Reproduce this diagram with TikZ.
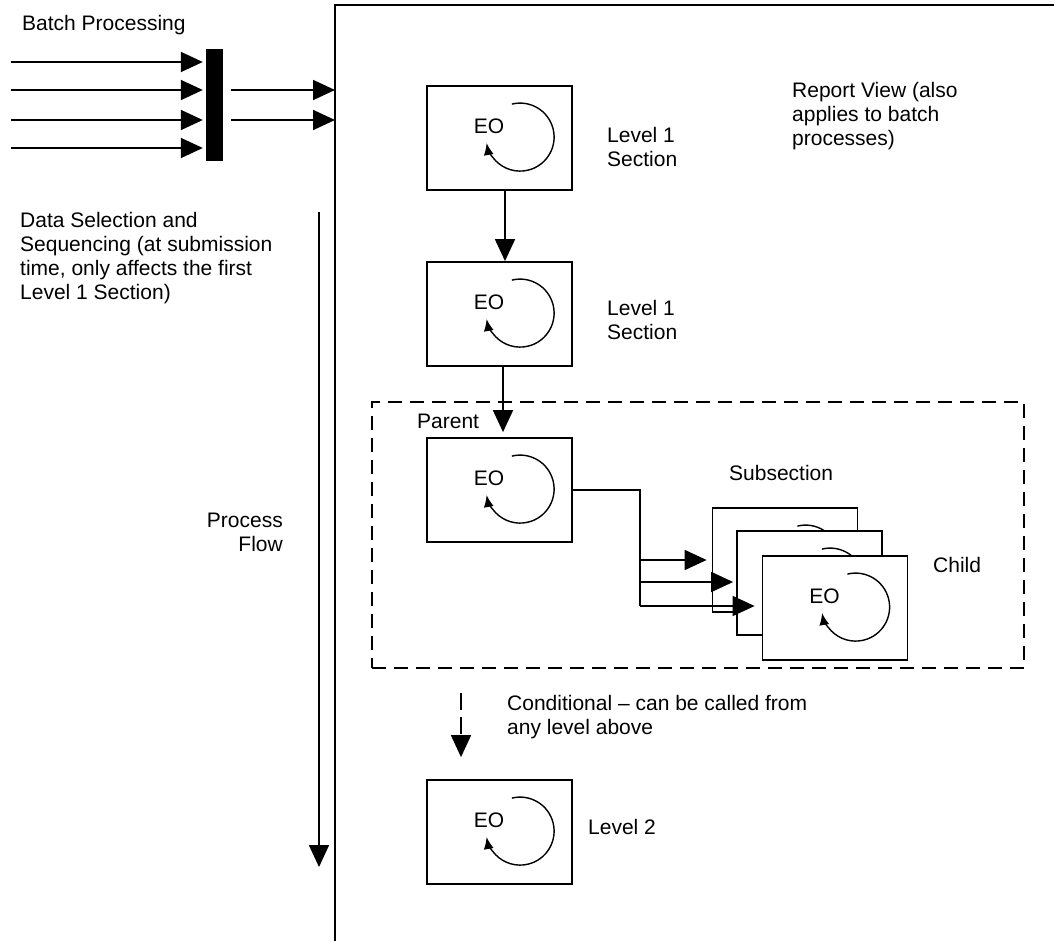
\documentclass[tikz,border=0pt]{standalone}
\usepackage{fontspec}
\setmainfont{Liberation Sans}
\usetikzlibrary{arrows.meta,calc}
\begin{document}
\begin{tikzpicture}[x=1pt,y=-1pt,
  every node/.style={font=\fontsize{21}{24}\selectfont, inner sep=0pt},
  line/.style={line width=1.8pt},
  arr/.style={line width=1.8pt, -{Triangle[length=22pt,width=20pt]}},
  box/.style={draw, line width=1.8pt, fill=white, minimum width=145pt, minimum height=104pt},
  cyc/.style={line width=1.4pt, -{Latex[length=12pt,width=10pt]}},
  lbl/.style={anchor=base west, align=left},
]
\useasboundingbox (0,0) rectangle (1054,941);
\newcommand{\EObox}[2]{%
  \node[box] (#1) at (#2) {};
  \node[anchor=center] (#1eo) at ($(#1.north west)+(63,41)$) {EO};
  \draw[cyc] ($(#1.north west)+(94,52)+(-104:34)$) arc[start angle=-104, end angle=170, radius=34];
}
% frame
\coordinate (fb) at (335,941);
\coordinate (ft) at (335,5);
\coordinate (fr) at (1054,5);
\draw[line] (fb) -- (ft) -- (fr);
% batch
\node[lbl] (batch) at (22,31) {Batch Processing};
\node[fill=black, minimum width=17pt, minimum height=112pt] (bar) at (214.5,105) {};
\foreach \y [count=\i] in {62,90,120,148}{
  \coordinate (in\i) at (11,\y);
  \draw[arr, shorten >=3pt] (in\i) -- (in\i -| bar.west);
}
\coordinate (o1) at (231,90);
\coordinate (o2) at (231,120);
\draw[arr] (o1) -- (o1 -| ft);
\draw[arr] (o2) -- (o2 -| ft);
% data selection text (anchor = baseline of last line)
\node[lbl] (ds) at (20,299) {Data Selection and\\Sequencing (at submission\\time, only affects the first\\Level 1 Section)};
% process flow
\coordinate (pf1) at (319,212);
\coordinate (pf2) at (319,867);
\draw[arr] (pf1) -- (pf2);
\node[anchor=base east, align=right] (pflow) at (283,551) {Process\\Flow};
% report view
\node[lbl] (rv) at (792,146) {Report View (also\\applies to batch\\processes)};
% boxes
\EObox{b1}{499.5,138}
\EObox{b2}{499.5,314}
\EObox{b3}{499.5,490}
\EObox{b4}{499.5,832}
\node[lbl] (l1a) at (607,167) {Level 1\\Section};
\node[lbl] (l1b) at (607,339) {Level 1\\Section};
\node[lbl] (l2) at (588,834) {Level 2};
\draw[arr] ([xshift=5.5pt]b1.south) -- ([xshift=5.5pt]b2.north);
\draw[arr, shorten >=5pt] ([xshift=3.5pt]b2.south) -- ([xshift=3.5pt]b3.north);
% group
\node[draw, dash pattern=on 14pt off 8pt, line width=1.8pt, minimum width=652pt, minimum height=266pt] (grp) at (698,535) {};
\node[lbl] (parent) at (417,428) {Parent};
\node[lbl] (subs) at (729,480) {Subsection};
\node[lbl] (child) at (933,572) {Child};
% children
\EObox{bA}{785,560}
\EObox{bB}{809.5,583}
\EObox{bC}{835,608}
\coordinate (j1) at (640,560);
\coordinate (j2) at (640,582);
\coordinate (j3) at (640,606);
\draw[line] (b3.east) -| (j3);
\draw[arr, shorten >=5pt] (j1) -- (j1 -| bA.west);
\draw[arr, shorten >=3pt] (j2) -- (j2 -| bB.west);
\draw[arr, shorten >=7pt] (j3) -- (j3 -| bC.west);
% conditional
\coordinate (c1) at (461,693);
\draw[arr, dash pattern=on 17pt off 7pt, shorten >=22pt] (c1) -- (c1 |- b4.north);
\node[lbl] (cond) at (507,734) {Conditional -- can be called from\\any level above};
\end{tikzpicture}
\end{document}
